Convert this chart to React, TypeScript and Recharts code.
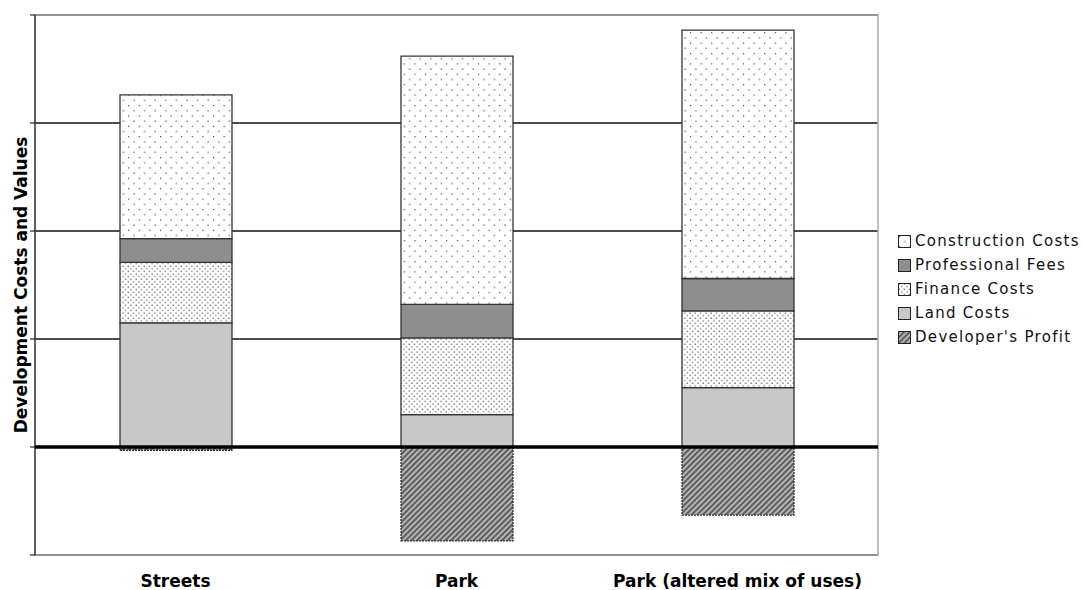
import React from 'react'
import {
  BarChart, Bar, XAxis, YAxis, CartesianGrid, ReferenceLine, ReferenceArea,
} from 'recharts'

const categories = ['Streets', 'Park', 'Park (altered mix of uses)']
const landCosts = [1.15, 0.30, 0.55]
const financeCosts = [0.56, 0.71, 0.71]
const professionalFees = [0.22, 0.31, 0.30]
const constructionCosts = [1.33, 2.30, 2.30]
const developersProfit = [-0.03, -0.87, -0.63]
const yTicks = [-1, 0, 1, 2, 3, 4]

// stacking order bottom -> top; legend lists them top -> bottom
const series = [
  { key: 'land', name: 'Land Costs', values: landCosts, fill: '#c8c8c8', dash: undefined },
  { key: 'finance', name: 'Finance Costs', values: financeCosts, fill: 'url(#finePat)', dash: undefined },
  { key: 'fees', name: 'Professional Fees', values: professionalFees, fill: '#8e8e8e', dash: undefined },
  { key: 'construction', name: 'Construction Costs', values: constructionCosts, fill: 'url(#sparsePat)', dash: undefined },
  { key: 'profit', name: "Developer's Profit", values: developersProfit, fill: 'url(#hatchPat)', dash: '2 1' },
]
const legendOrder = ['construction', 'fees', 'finance', 'land', 'profit']

const data = categories.map((name, i) => {
  const row: Record<string, string | number> = { name }
  series.forEach(s => { row[s.key] = s.values[i] })
  return row
})

const font = '"DejaVu Sans", Verdana, sans-serif'

function Patterns() {
  return (
    <defs>
      <pattern id="sparsePat" width={10.6} height={10.4} patternUnits="userSpaceOnUse">
        <rect width={10.6} height={10.4} fill="#fff" />
        <rect x={1} y={1} width={1.1} height={1.1} fill="#222" />
        <rect x={6.3} y={6.2} width={1.1} height={1.1} fill="#222" />
      </pattern>
      <pattern id="finePat" width={5.3} height={5.2} patternUnits="userSpaceOnUse">
        <rect width={5.3} height={5.2} fill="#fff" />
        <rect x={0.5} y={0.5} width={1.1} height={1.1} fill="#333" />
        <rect x={3.15} y={3.1} width={1.1} height={1.1} fill="#333" />
      </pattern>
      <pattern id="hatchPat" width={4} height={4} patternUnits="userSpaceOnUse" patternTransform="rotate(45)">
        <rect width={4} height={4} fill="#b4b4b4" />
        <line x1={1} y1={0} x2={1} y2={4} stroke="#3a3a3a" strokeWidth={1.4} />
      </pattern>
    </defs>
  )
}

function LegendBox() {
  return (
    <div style={{ position: 'absolute', left: 898, top: 229, fontFamily: font, fontSize: 15,
      letterSpacing: 1.3, color: '#111', whiteSpace: 'nowrap' }}>
      <svg width={0} height={0} style={{ position: 'absolute' }}><Patterns /></svg>
      {legendOrder.map(k => {
        const s = series.find(x => x.key === k)!
        return (
          <div key={k} style={{ display: 'flex', alignItems: 'center', height: 24 }}>
            <svg width={13} height={13} style={{ marginRight: 4, flexShrink: 0 }}>
              <rect x={0.5} y={0.5} width={12} height={12} fill={s.fill} stroke="#222" strokeWidth={1} />
            </svg>
            <span>{s.name}</span>
          </div>
        )
      })}
    </div>
  )
}

export default function App() {
  return (
    <div style={{ position: 'absolute', left: 0, top: 0, width: 1083, height: 590, background: '#fff', fontFamily: font }}>
      <BarChart width={1083} height={590} data={data} stackOffset="sign" barSize={112}
        margin={{ top: 15, right: 205, bottom: 0, left: 0 }}>
        <Patterns />
        <CartesianGrid vertical={false} stroke="#111" strokeWidth={1.3} />
        <ReferenceArea y1={-1} y2={4} fill="none" fillOpacity={0} stroke="#aaa" strokeWidth={1.5} />
        <XAxis dataKey="name" height={35} axisLine={false} tickLine={false} tickMargin={14}
          tick={{ fill: '#000', fontSize: 17, fontWeight: 'bold', fontFamily: font }} />
        <YAxis type="number" domain={[-1, 4]} ticks={yTicks} width={35} tick={() => <g />} tickSize={5}
          axisLine={{ stroke: '#000' }} tickLine={{ stroke: '#000' }}
          label={{ value: 'Development Costs and Values', angle: -90, position: 'center', dx: 3,
            style: { fontSize: 17, fontWeight: 'bold', fill: '#000', fontFamily: font } }} />
        {series.map(s => (
          <Bar key={s.key} dataKey={s.key} name={s.name} stackId="a" fill={s.fill}
            stroke="#333" strokeWidth={1.3} strokeDasharray={s.dash} isAnimationActive={false} />
        ))}
        <ReferenceLine y={0} stroke="#000" strokeWidth={3.5} />
      </BarChart>
      <LegendBox />
    </div>
  )
}
